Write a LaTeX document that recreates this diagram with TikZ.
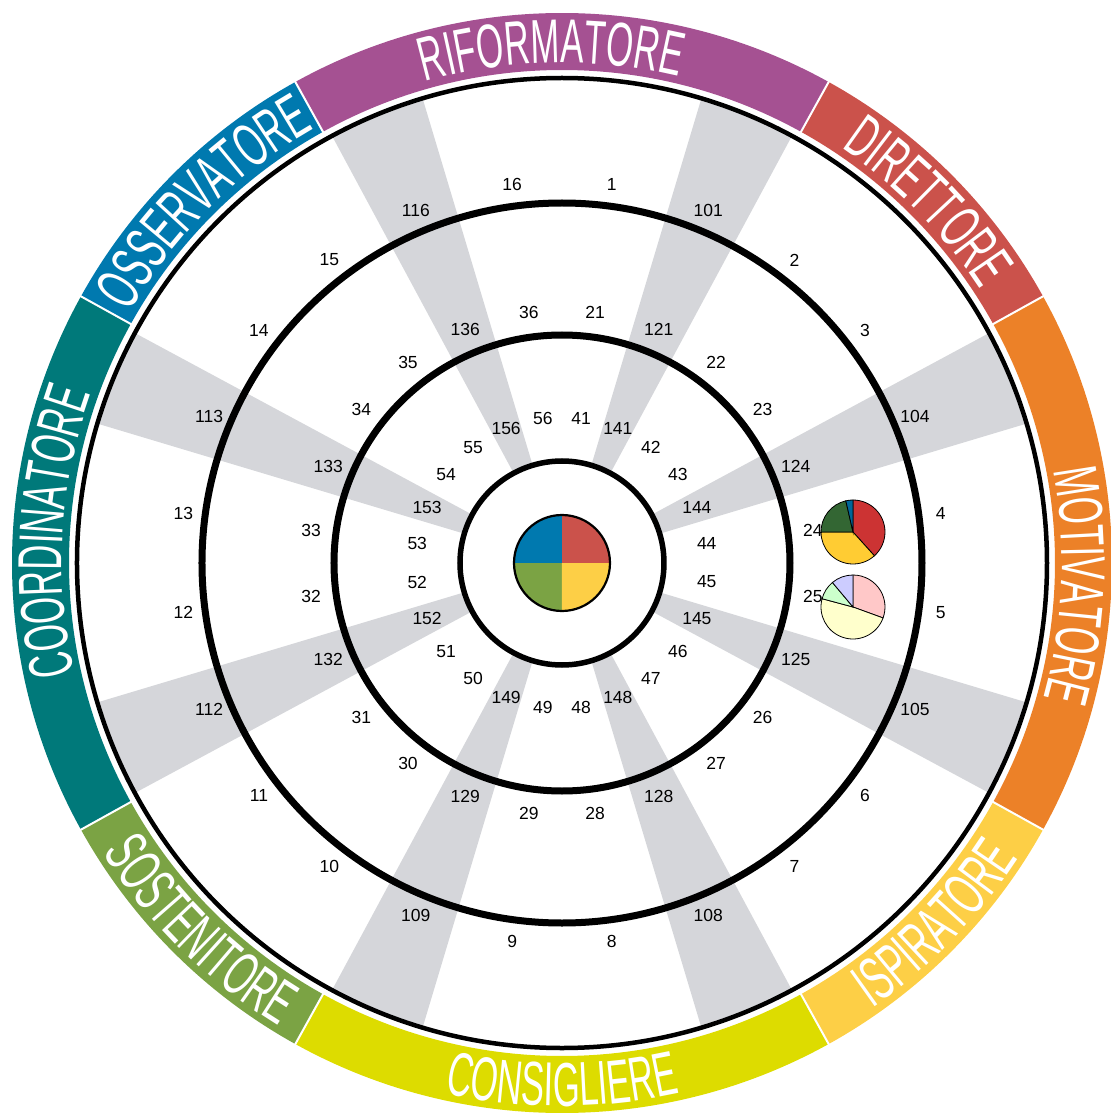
\documentclass[tikz,border=0pt]{standalone}
\usepackage{fontspec}
\usepackage{tikz}
\usetikzlibrary{decorations.text}
\setmainfont{Liberation Sans}
\newfontfamily\bandfont[FakeStretch=0.56]{Liberation Sans}

\definecolor{riform}{HTML}{A55192}
\definecolor{dirett}{HTML}{CB524B}
\definecolor{motiv}{HTML}{EC8128}
\definecolor{ispir}{HTML}{FDCF46}
\definecolor{consig}{HTML}{DDDC00}
\definecolor{sosten}{HTML}{7BA344}
\definecolor{coord}{HTML}{00797A}
\definecolor{osserv}{HTML}{0079AF}
\definecolor{spokegray}{HTML}{D5D6DA}
\definecolor{pieA1}{HTML}{CC3333}
\definecolor{pieA2}{HTML}{FFCC33}
\definecolor{pieA3}{HTML}{336633}
\definecolor{pieA4}{HTML}{006699}
\definecolor{pieB1}{HTML}{FFC8C8}
\definecolor{pieB2}{HTML}{FFFFCC}
\definecolor{pieB3}{HTML}{CCFFCC}
\definecolor{pieB4}{HTML}{CCCCFF}

\tikzset{
  num/.style={font=\fontsize{17.5}{17.5}\selectfont, inner sep=0pt},
  sep/.style={draw=white, line width=2pt},
  pieline/.style={draw=black, line width=0.8pt},
}

% coloured piece of the outer band
\newcommand{\bandseg}[3]{\fill[#3] (#1:550) arc[start angle=#1, end angle=#2, radius=550pt] -- (#2:493) arc[start angle=#2, end angle=#1, radius=493pt] -- cycle;}
% grey spoke
\newcommand{\spoke}[1]{\fill[spokegray] (0,0) -- (#1-5.8:485) arc[start angle=#1-5.8, end angle=#1+5.8, radius=485pt] -- cycle;}
% band names, upper ones read clockwise, lower ones counter-clockwise
\newcommand{\bandtop}[2]{\path[decorate, decoration={text along path, text align=center, text={|\bandfont\fontsize{62}{62}\selectfont\color{white}|#2}}] (#1+40:500) arc[start angle=#1+40, end angle=#1-40, radius=500pt];}
\newcommand{\bandbot}[2]{\path[decorate, decoration={text along path, text align=center, text={|\bandfont\fontsize{62}{62}\selectfont\color{white}|#2}}] (#1-40:543) arc[start angle=#1-40, end angle=#1+40, radius=543pt];}
% pie slice: centre, start, end, radius, colour
\newcommand{\slice}[5]{\filldraw[fill=#5, pieline] #1 -- ++(#2:#4) arc[start angle=#2, end angle=#3, radius=#4 pt] -- cycle;}

\begin{document}
\begin{tikzpicture}[x=1pt, y=1pt]
\useasboundingbox (-562,-554) rectangle (549,563);

\bandseg{61}{119}{riform}
\bandseg{29}{61}{dirett}
\bandseg{-29}{29}{motiv}
\bandseg{-61}{-29}{ispir}
\bandseg{-119}{-61}{consig}
\bandseg{-151}{-119}{sosten}
\bandseg{151}{209}{coord}
\bandseg{119}{151}{osserv}
\foreach \a in {29,61,119,151,209,241,299,331}
  \draw[sep] (\a:489) -- (\a:553);

\spoke{67.5}
\spoke{22.5}
\spoke{-22.5}
\spoke{-67.5}
\spoke{-112.5}
\spoke{-157.5}
\spoke{157.5}
\spoke{112.5}
\fill[white] (0,0) circle (102);

\draw[line width=4.5pt] (0,0) circle (485);
\draw[line width=7pt] (0,0) circle (360);
\draw[line width=7pt] (0,0) circle (228);
\draw[line width=5.5pt] (0,0) circle (102);

% centre
\fill[dirett] (0,0) -- (0:48) arc[start angle=0, end angle=90, radius=48pt] -- cycle;
\fill[osserv] (0,0) -- (90:48) arc[start angle=90, end angle=180, radius=48pt] -- cycle;
\fill[sosten] (0,0) -- (180:48) arc[start angle=180, end angle=270, radius=48pt] -- cycle;
\fill[ispir] (0,0) -- (270:48) arc[start angle=270, end angle=360, radius=48pt] -- cycle;
\draw[line width=2.2pt] (0,0) circle (48);

% small pies
\slice{(291,31)}{90}{-48}{32}{pieA1}
\slice{(291,31)}{-48}{-180}{32}{pieA2}
\slice{(291,31)}{180}{103}{32}{pieA3}
\slice{(291,31)}{103}{90}{32}{pieA4}
\slice{(291,-44)}{90}{-20}{32}{pieB1}
\slice{(291,-44)}{-20}{-195}{32}{pieB2}
\slice{(291,-44)}{165}{130}{32}{pieB3}
\slice{(291,-44)}{130}{90}{32}{pieB4}

% outer ring
\node[num] (n1) at (82.5:382) {1};
\node[num] (n2) at (52.5:382) {2};
\node[num] (n3) at (37.5:382) {3};
\node[num] (n4) at (7.5:382) {4};
\node[num] (n5) at (-7.5:382) {5};
\node[num] (n6) at (-37.5:382) {6};
\node[num] (n7) at (-52.5:382) {7};
\node[num] (n8) at (-82.5:382) {8};
\node[num] (n9) at (-97.5:382) {9};
\node[num] (n10) at (-127.5:382) {10};
\node[num] (n11) at (-142.5:382) {11};
\node[num] (n12) at (-172.5:382) {12};
\node[num] (n13) at (172.5:382) {13};
\node[num] (n14) at (142.5:382) {14};
\node[num] (n15) at (127.5:382) {15};
\node[num] (n16) at (97.5:382) {16};
\node[num] (n101) at (67.5:382) {101};
\node[num] (n104) at (22.5:382) {104};
\node[num] (n105) at (-22.5:382) {105};
\node[num] (n108) at (-67.5:382) {108};
\node[num] (n109) at (-112.5:382) {109};
\node[num] (n112) at (-157.5:382) {112};
\node[num] (n113) at (157.5:382) {113};
\node[num] (n116) at (112.5:382) {116};

% middle ring
\node[num] (n21) at (82.5:253) {21};
\node[num] (n22) at (52.5:253) {22};
\node[num] (n23) at (37.5:253) {23};
\node[num] (n24) at (7.5:253) {24};
\node[num] (n25) at (-7.5:253) {25};
\node[num] (n26) at (-37.5:253) {26};
\node[num] (n27) at (-52.5:253) {27};
\node[num] (n28) at (-82.5:253) {28};
\node[num] (n29) at (-97.5:253) {29};
\node[num] (n30) at (-127.5:253) {30};
\node[num] (n31) at (-142.5:253) {31};
\node[num] (n32) at (-172.5:253) {32};
\node[num] (n33) at (172.5:253) {33};
\node[num] (n34) at (142.5:253) {34};
\node[num] (n35) at (127.5:253) {35};
\node[num] (n36) at (97.5:253) {36};
\node[num] (n121) at (67.5:253) {121};
\node[num] (n124) at (22.5:253) {124};
\node[num] (n125) at (-22.5:253) {125};
\node[num] (n128) at (-67.5:253) {128};
\node[num] (n129) at (-112.5:253) {129};
\node[num] (n132) at (-157.5:253) {132};
\node[num] (n133) at (157.5:253) {133};
\node[num] (n136) at (112.5:253) {136};

% inner ring
\node[num] (n41) at (82.5:146) {41};
\node[num] (n42) at (52.5:146) {42};
\node[num] (n43) at (37.5:146) {43};
\node[num] (n44) at (7.5:146) {44};
\node[num] (n45) at (-7.5:146) {45};
\node[num] (n46) at (-37.5:146) {46};
\node[num] (n47) at (-52.5:146) {47};
\node[num] (n48) at (-82.5:146) {48};
\node[num] (n49) at (-97.5:146) {49};
\node[num] (n50) at (-127.5:146) {50};
\node[num] (n51) at (-142.5:146) {51};
\node[num] (n52) at (-172.5:146) {52};
\node[num] (n53) at (172.5:146) {53};
\node[num] (n54) at (142.5:146) {54};
\node[num] (n55) at (127.5:146) {55};
\node[num] (n56) at (97.5:146) {56};
\node[num] (n141) at (67.5:146) {141};
\node[num] (n144) at (22.5:146) {144};
\node[num] (n145) at (-22.5:146) {145};
\node[num] (n148) at (-67.5:146) {148};
\node[num] (n149) at (-112.5:146) {149};
\node[num] (n152) at (-157.5:146) {152};
\node[num] (n153) at (157.5:146) {153};
\node[num] (n156) at (112.5:146) {156};

\bandtop{91.2}{RIFORMATORE}
\bandtop{44.6}{DIRETTORE}
\bandtop{-2.5}{MOTIVATORE}
\bandtop{176.5}{COORDINATORE}
\bandtop{134.8}{OSSERVATORE}
\bandbot{-44}{ISPIRATORE}
\bandbot{-90}{CONSIGLIERE}
\bandbot{-134.6}{SOSTENITORE}
\end{tikzpicture}
\end{document}
